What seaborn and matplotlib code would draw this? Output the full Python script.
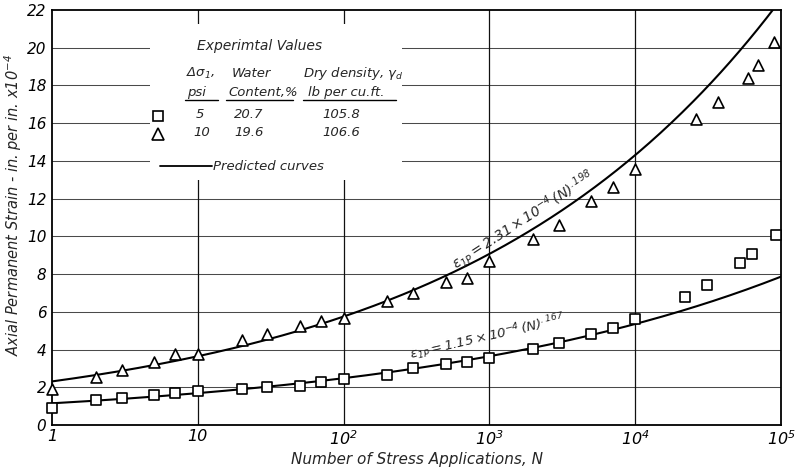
import numpy as np
import pandas as pd
import matplotlib
matplotlib.use("Agg")
import matplotlib.pyplot as plt
import seaborn as sns
from matplotlib.patches import Rectangle
from matplotlib.lines import Line2D
from matplotlib.ticker import NullLocator

# Measured axial permanent strain (x 10^-4 in. per in.) vs. number of stress applications
n_5psi = [1, 2, 3, 5, 7, 10, 20, 30, 50, 70, 100, 200, 300, 500, 700, 1000,
          2000, 3000, 5000, 7000, 10000, 22000, 31000, 52000, 63000, 93000]
strain_5psi = [0.92, 1.32, 1.45, 1.59, 1.68, 1.80, 1.91, 2.03, 2.08, 2.26, 2.44,
               2.65, 3.00, 3.22, 3.35, 3.57, 4.01, 4.36, 4.81, 5.12, 5.60,
               6.80, 7.42, 8.60, 9.05, 10.07]
n_10psi = [1, 2, 3, 5, 7, 10, 20, 30, 50, 70, 100, 200, 300, 500, 700, 1000,
           2000, 3000, 5000, 7000, 10000, 26000, 37000, 59000, 69000, 89000]
strain_10psi = [1.90, 2.57, 2.93, 3.36, 3.77, 3.78, 4.48, 4.85, 5.27, 5.49, 5.68,
                6.57, 7.02, 7.58, 7.81, 8.70, 9.86, 10.62, 11.90, 12.60, 13.55,
                16.20, 17.10, 18.40, 19.10, 20.30]

# Predicted curves: strain = a * N ** b
coef_5psi, exp_5psi = 1.15, 0.167
coef_10psi, exp_10psi = 2.31, 0.198

# Test conditions table
stress_psi = ["5", "10"]
water_content = ["20.7", "19.6"]
dry_density = ["105.8", "106.6"]

y_ticks = list(range(0, 23, 2))
x_ticks = [1, 10, 100, 1000, 10000, 100000]
x_tick_labels = ["1", "10", r"$10^2$", r"$10^3$", r"$10^4$", r"$10^5$"]

sns.set_theme(style="white")
plt.rcParams["font.family"] = ["DejaVu Sans"]
plt.rcParams["font.style"] = "italic"
plt.rcParams["mathtext.fontset"] = "dejavusans"
plt.rcParams["mathtext.default"] = "it"

fig, ax = plt.subplots(figsize=(8.05, 4.68), dpi=100)
fig.subplots_adjust(left=0.0646, right=0.9702, bottom=0.0919, top=0.9786)

ax.set_xscale("log")
ax.set_xlim(1, 1e5)
ax.set_ylim(0, 22)

# grid
for yv in y_ticks[1:-1]:
    ax.axhline(yv, color="#4a4a4a", lw=0.75, zorder=1)
for xv in x_ticks[1:-1]:
    ax.axvline(xv, color="#111111", lw=0.9, zorder=1)


def ax_pos(px, py):
    """Axes-fraction position from plot pixel coordinates."""
    return (px - 52) / 729.0, (425 - py) / 415.0


# blank panel behind the table
x0, y1 = ax_pos(150, 24)
x1, y0 = ax_pos(402, 180)
ax.add_patch(Rectangle((x0, y0), x1 - x0, y1 - y0, transform=ax.transAxes,
                       facecolor="white", edgecolor="none", zorder=2))

# predicted curves
n_grid = np.logspace(0, 5, 400)
curves = pd.concat([
    pd.DataFrame({"N": n_grid, "strain": coef_5psi * n_grid ** exp_5psi, "psi": "5"}),
    pd.DataFrame({"N": n_grid, "strain": coef_10psi * n_grid ** exp_10psi, "psi": "10"}),
])
sns.lineplot(data=curves, x="N", y="strain", units="psi", estimator=None,
             color="black", lw=1.5, ax=ax, zorder=3)

# measured points
sns.scatterplot(x=n_5psi, y=strain_5psi, marker="s", s=48, color="white",
                edgecolor="black", linewidth=1.2, ax=ax, zorder=4, clip_on=False)
sns.scatterplot(x=n_10psi, y=strain_10psi, marker="^", s=62, color="white",
                edgecolor="black", linewidth=1.2, ax=ax, zorder=4, clip_on=False)

# axes styling
for sp in ax.spines.values():
    sp.set_color("black")
    sp.set_linewidth(1.3)
ax.set_xticks(x_ticks)
ax.set_xticklabels(x_tick_labels)
ax.xaxis.set_minor_locator(NullLocator())
ax.set_yticks(y_ticks)
ax.set_yticklabels([str(v) for v in y_ticks])
ax.tick_params(axis="both", length=0, colors="black")
ax.tick_params(axis="y", labelsize=11, pad=4)
ax.tick_params(axis="x", labelsize=11.5, pad=3)
ax.set_xlabel("Number of Stress Applications, N", fontsize=11)
ax.xaxis.set_label_coords(0.50, -0.066)
ax.set_ylabel(r"Axial Permanent Strain - in. per in. x$10^{-4}$", fontsize=10.5)
ax.yaxis.set_label_coords(-0.038, 0.53)

# curve equations
ax.text(1700, 10.85, r"$\varepsilon_{1P} = 2.31 \times 10^{-4}\,(N)^{.198}$",
        rotation=33, rotation_mode="anchor", ha="center", va="center",
        fontsize=10, zorder=5)
ax.text(960, 4.68, r"$\varepsilon_{1P} = 1.15 \times 10^{-4}\,(N)^{.167}$",
        rotation=13, rotation_mode="anchor", ha="center", va="center",
        fontsize=9.5, zorder=5)

# table of test conditions
tk = dict(transform=ax.transAxes, fontsize=9.5, va="center", ha="left", zorder=5)
ax.text(*ax_pos(197, 46), "Experimtal Values", fontsize=10, transform=ax.transAxes,
        va="center", ha="left", zorder=5)
ax.text(*ax_pos(186, 73), r"$\Delta\sigma_1$,", **tk)
ax.text(*ax_pos(232, 73), "Water", **tk)
ax.text(*ax_pos(303, 73), r"Dry density, $\gamma_d$", **tk)
ax.text(*ax_pos(187, 92), "psi", **tk)
ax.text(*ax_pos(228, 92), "Content,%", **tk)
ax.text(*ax_pos(308, 92), "lb per cu.ft.", **tk)
for a, b in [(185, 218), (226, 293), (303, 396)]:
    xa, yl = ax_pos(a, 100)
    xb, _ = ax_pos(b, 100)
    ax.add_line(Line2D([xa, xb], [yl, yl], transform=ax.transAxes,
                       color="black", lw=1.0, zorder=5))

rows_y = [114, 132]
markers = ["s", "^"]
msizes = [7, 8]
for i in range(2):
    mx, my = ax_pos(158, rows_y[i] + 2)
    ax.add_line(Line2D([mx], [my], transform=ax.transAxes, marker=markers[i],
                       markersize=msizes[i], markerfacecolor="white",
                       markeredgecolor="black", markeredgewidth=1.2,
                       linestyle="none", zorder=5))
    ax.text(*ax_pos(196 if i == 0 else 193, rows_y[i]), stress_psi[i], **tk)
    ax.text(*ax_pos(234, rows_y[i]), water_content[i], **tk)
    ax.text(*ax_pos(322, rows_y[i]), dry_density[i], **tk)

la, ly = ax_pos(160, 166)
lb, _ = ax_pos(212, 166)
ax.add_line(Line2D([la, lb], [ly, ly], transform=ax.transAxes,
                   color="black", lw=1.3, zorder=5))
ax.text(*ax_pos(213, 166), "Predicted curves", **tk)

fig.savefig("out.png", dpi=100, facecolor="white")
